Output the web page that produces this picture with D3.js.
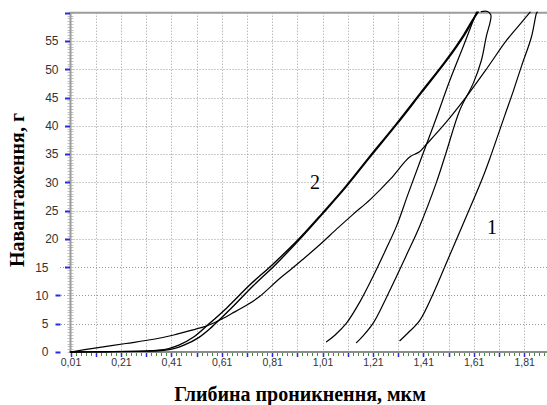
<!DOCTYPE html>
<html><head><meta charset="utf-8">
<script src="https://cdn.jsdelivr.net/npm/d3@7"></script>
<style>html,body{margin:0;padding:0;background:#fff;} svg{display:block}</style>
</head><body>
<svg id="c" width="547" height="405"></svg>
<script>
// ---- data ----
const xTickValues = [0.01,0.21,0.41,0.61,0.81,1.01,1.21,1.41,1.61,1.81];
const xTickLabels = ["0,01","0,21","0,41","0,61","0,81","1,01","1,21","1,41","1,61","1,81"];
const yTickValues = [0,5,10,15,20,25,30,35,40,45,50,55];
const xTitle = "Глибина проникнення, мкм";
const yTitle = "Навантаження, г";
const curveLabels = ["1","2"];

// sample 1 – loading
const load1Depth = [0.01,0.10,0.23,0.34,0.42,0.51,0.55,0.60,0.65,0.71,0.76,0.84,0.89,0.93,1.00,1.07,1.13,1.20,1.28,1.34,1.36,1.395,1.42,1.50,1.575,1.66,1.74,1.80,1.834];
const load1Force = [0,0.65,1.5,2.25,3.0,4.1,4.6,5.6,6.8,8.3,9.8,13.0,14.8,16.3,19.0,21.9,24.3,27.0,30.6,33.8,34.6,35.4,36.6,40.6,44.8,50.0,55.1,58.3,60.1];
// sample 1 – unloading
const unload1Depth = [1.862,1.859,1.839,1.80,1.766,1.733,1.677,1.647,1.581,1.502,1.45,1.396,1.35,1.317];
const unload1Force = [60.1,59.9,55.7,50.6,46.0,41.8,34.6,31.0,24.0,15.8,10.4,5.6,3.4,2.0];

// sample 2 – two loadings (nearly coincident)
const load2aDepth = [0.01,0.15,0.30,0.36,0.40,0.44,0.50,0.55,0.63,0.72,0.81,0.91,1.01,1.10,1.19,1.30,1.40,1.50,1.57,1.61,1.625];
const load2aForce = [0,0.05,0.15,0.3,0.6,1.2,2.7,4.6,7.8,11.8,15.4,19.7,24.6,29.2,34.2,40.2,45.9,51.6,56.1,59.1,60.1];
const load2bDepth = [0.01,0.15,0.30,0.38,0.42,0.46,0.52,0.57,0.645,0.735,0.82,0.915,1.014,1.104,1.194,1.304,1.404,1.504,1.574,1.613,1.628];
const load2bForce = [0,0.05,0.15,0.3,0.6,1.2,2.6,4.4,7.6,11.7,15.3,19.7,24.6,29.2,34.2,40.2,45.9,51.6,56.1,59.1,60.1];
// sample 2 – unloadings
const unload2aDepth = [1.621,1.57,1.515,1.46,1.403,1.35,1.304,1.26,1.211,1.16,1.105,1.06,1.026];
const unload2aForce = [60.1,54.2,48.0,41.2,34.4,28.0,22.3,18.0,13.4,9.0,5.1,3.0,1.8];
const unload2bDepth = [1.64,1.665,1.678,1.676,1.661,1.64,1.608,1.555,1.50,1.462,1.396,1.35,1.304,1.26,1.211,1.17,1.145];
const unload2bForce = [60.2,60.2,59.6,58.5,56.0,51.5,47.5,42.8,35.2,30.0,22.3,17.8,13.4,9.3,5.1,2.8,1.65];

// ---- drawing ----
const svg = d3.select("#c");
const x = d3.scaleLinear().domain([0.01, 1.9]).range([70.5, 546.8]);
const y = d3.scaleLinear().domain([0, 60]).range([352, 12.7]);
const X0 = x(0.01), Y0 = y(0), YT = y(60);

// grid
const grid = svg.append("g").attr("stroke","#9a9a9a").attr("stroke-width",1).attr("stroke-dasharray","1,2");
d3.range(0.11, 1.89, 0.1).forEach(v => {
  grid.append("line").attr("x1",Math.round(x(v))+0.5).attr("x2",Math.round(x(v))+0.5).attr("y1",YT).attr("y2",Y0);
});
yTickValues.filter(v=>v>0).forEach(v => {
  const yy = Math.round(y(v))+0.5;
  const start = v < 15 ? 61 : (v === 15 ? 60 : X0);
  grid.append("line").attr("x1",start).attr("x2",547).attr("y1",yy).attr("y2",yy);
});

// y-axis ruler minor ticks
const ruler = svg.append("g").attr("stroke","#c4c4c4").attr("stroke-width",1);
d3.range(0, 60.01, 0.5).forEach(v => {
  const yy = Math.round(y(v))+0.5;
  ruler.append("line").attr("x1",X0-3).attr("x2",X0+3).attr("y1",yy).attr("y2",yy);
});
// axis frame lines
svg.append("line").attr("x1",X0).attr("x2",X0).attr("y1",YT).attr("y2",Y0+1).attr("stroke","#9c9c9c").attr("stroke-width",2);
svg.append("line").attr("x1",X0-1).attr("x2",547).attr("y1",YT).attr("y2",YT).attr("stroke","#9c9c9c").attr("stroke-width",2);
svg.append("line").attr("x1",X0-1).attr("x2",547).attr("y1",Y0).attr("y2",Y0).attr("stroke","#8c8c8c").attr("stroke-width",2);

// x minor ticks (green) and major (blue)
const xt = svg.append("g");
d3.range(0.01, 1.895, 0.02).forEach(v => {
  xt.append("line").attr("x1",Math.round(x(v))+0.5).attr("x2",Math.round(x(v))+0.5).attr("y1",Y0+1).attr("y2",Y0+4).attr("stroke","#2e9a2e").attr("stroke-width",1);
});
d3.range(0.01, 1.895, 0.1).forEach(v => {
  xt.append("line").attr("x1",Math.round(x(v))+0.5).attr("x2",Math.round(x(v))+0.5).attr("y1",Y0+1).attr("y2",Y0+5).attr("stroke","#2a2ae0").attr("stroke-width",1.5);
});
// y major ticks (blue)
yTickValues.concat([60]).forEach(v => {
  const yy = Math.round(y(v))+0.5;
  const x1 = v <= 10 ? 55.5 : 65, x2 = v <= 10 ? 60.5 : 70;
  xt.append("line").attr("x1",x1).attr("x2",x2).attr("y1",yy).attr("y2",yy).attr("stroke","#2a2ae0").attr("stroke-width",2);
});

// axes labels via d3 axes
const gx = svg.append("g").attr("transform",`translate(0,${Y0})`)
  .call(d3.axisBottom(x).tickValues(xTickValues).tickFormat((d,i)=>xTickLabels[i]).tickSize(0).tickPadding(7));
gx.select(".domain").remove();
gx.selectAll("text").attr("font-family","Arial, 'Liberation Sans', sans-serif").attr("font-size","10.5px").attr("fill","#333");

const gy = svg.append("g").attr("transform",`translate(${X0},0)`)
  .call(d3.axisLeft(y).tickValues(yTickValues).tickSize(0).tickPadding(12));
gy.select(".domain").remove();
gy.selectAll("text").attr("font-family","Arial, 'Liberation Sans', sans-serif").attr("font-size","12px").attr("fill","#333")
  .attr("x", d => d <= 15 ? -22 : -12);

// curves
const line = d3.line().x(d=>x(d[0])).y(d=>y(d[1])).curve(d3.curveCatmullRom.alpha(0.5));
const series = [
  [load1Depth, load1Force, 1.2],
  [unload1Depth, unload1Force, 1.2],
  [load2aDepth, load2aForce, 1.4],
  [load2bDepth, load2bForce, 1.4],
  [unload2aDepth, unload2aForce, 1.2],
  [unload2bDepth, unload2bForce, 1.2]
];
series.forEach(([xs, ys, w]) => {
  svg.append("path").datum(xs.map((v,i)=>[v, ys[i]]))
    .attr("d", line).attr("fill","none").attr("stroke","#000").attr("stroke-width",w)
    .attr("stroke-linejoin","round").attr("stroke-linecap","round");
});

// curve labels
svg.append("text").attr("x",492).attr("y",234).attr("text-anchor","middle")
  .attr("font-family","'Liberation Serif','Times New Roman',serif").attr("font-size","20px").attr("fill","#000").text(curveLabels[0]);
svg.append("text").attr("x",315).attr("y",189).attr("text-anchor","middle")
  .attr("font-family","'Liberation Serif','Times New Roman',serif").attr("font-size","20px").attr("fill","#000").text(curveLabels[1]);

// axis titles
svg.append("text").attr("x",300).attr("y",401).attr("text-anchor","middle")
  .attr("font-family","'Liberation Serif','Times New Roman',serif").attr("font-weight","bold").attr("font-size","20px").attr("fill","#000").text(xTitle);
svg.append("text").attr("transform","translate(24,190) rotate(-90)").attr("text-anchor","middle")
  .attr("font-family","'Liberation Serif','Times New Roman',serif").attr("font-weight","bold").attr("font-size","20px").attr("fill","#000").text(yTitle);
</script>
</body></html>
